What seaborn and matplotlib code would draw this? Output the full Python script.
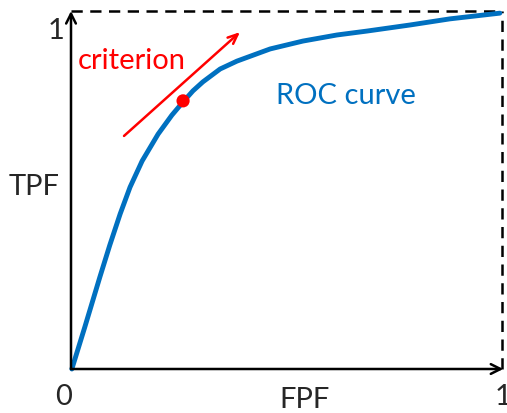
import numpy as np
import pandas as pd
import seaborn as sns
import matplotlib.pyplot as plt

# ROC curve points
fpf = [0.002, 0.032, 0.067, 0.090, 0.114, 0.137, 0.165, 0.202, 0.234, 0.260,
       0.283, 0.306, 0.346, 0.385, 0.462, 0.538, 0.617, 0.687, 0.787, 0.879,
       0.995]
tpf = [0.0, 0.117, 0.257, 0.346, 0.433, 0.508, 0.581, 0.656, 0.709, 0.746,
       0.777, 0.802, 0.838, 0.860, 0.894, 0.916, 0.933, 0.944, 0.961, 0.978,
       0.994]

# operating point and criterion arrow
point_x = [0.260]
point_y = [0.749]
arrow_start = (0.123, 0.651)
arrow_end = (0.392, 0.941)

roc = pd.DataFrame({'FPF': fpf, 'TPF': tpf})

sns.set_style('white')
plt.rcParams['font.family'] = ['Lato', 'DejaVu Sans']

fig = plt.figure(figsize=(5.07, 4.14), dpi=100)
ax = fig.add_axes([71 / 507, 44 / 414, 431 / 507, 358 / 414])
ax.set_xlim(0, 1)
ax.set_ylim(0, 1)
for s in ax.spines.values():
    s.set_visible(False)
ax.set_xticks([])
ax.set_yticks([])

blue = '#0070C0'
red = '#FF0000'

# dashed top/right frame
ax.plot([0, 1], [1, 1], color='black', ls=(0, (4.5, 3)), lw=1.8, clip_on=False)
ax.plot([1, 1], [0, 1], color='black', ls=(0, (4.5, 3)), lw=1.8, clip_on=False)

# axes with arrow heads
arrow_kw = dict(arrowstyle='->,head_width=0.35,head_length=0.7', color='black', lw=1.8,
                shrinkA=0, shrinkB=0)
ax.annotate('', xy=(0, 1.0), xytext=(0, 0), arrowprops=arrow_kw, annotation_clip=False)
ax.annotate('', xy=(1.003, 0), xytext=(0, 0), arrowprops=arrow_kw, annotation_clip=False)

# ROC curve
sns.lineplot(data=roc, x='FPF', y='TPF', ax=ax, color=blue, lw=3.5, sort=False,
             clip_on=False, solid_joinstyle='round', solid_capstyle='round')
ax.set_xlabel('')
ax.set_ylabel('')

# criterion arrow + point
ax.annotate('', xy=arrow_end, xytext=arrow_start,
            arrowprops=dict(arrowstyle='->,head_width=0.3,head_length=0.7', color=red,
                            lw=1.8, shrinkA=0, shrinkB=0))
sns.scatterplot(x=point_x, y=point_y, ax=ax, color=red, s=90, marker='o',
                edgecolor='none', zorder=5)

fs = 21
ax.text(0.016, 0.862, 'criterion', color=red, fontsize=fs, ha='left', va='center')
ax.text(0.475, 0.766, 'ROC curve', color=blue, fontsize=fs, ha='left', va='center')

ax.text(-0.035, 0.948, '1', fontsize=fs, ha='center', va='center')
ax.text(-0.085, 0.512, 'TPF', fontsize=fs, ha='center', va='center')
ax.text(-0.018, -0.075, '0', fontsize=fs, ha='center', va='center')
ax.text(0.543, -0.083, 'FPF', fontsize=fs, ha='center', va='center')
ax.text(1.002, -0.075, '1', fontsize=fs, ha='center', va='center', clip_on=False)

fig.savefig('out.png', dpi=100)
